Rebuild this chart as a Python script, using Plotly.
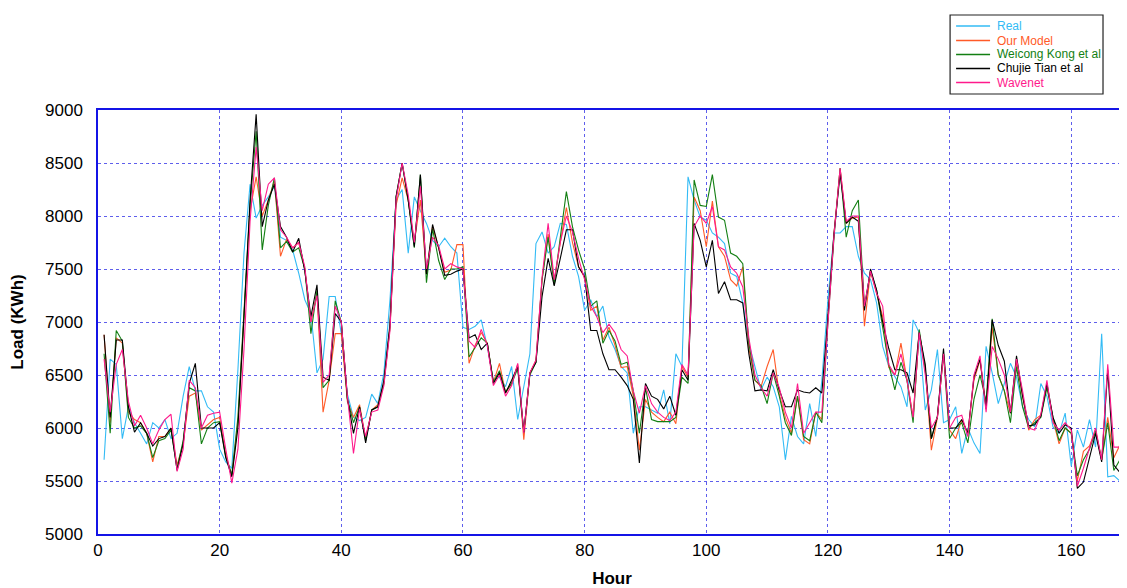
import plotly.graph_objects as go

hours = list(range(1, 169))

real = [5700, 6650, 6600, 5900, 6200, 6050, 5950, 5850, 6050, 6000,
        6080, 5900, 5950, 6300, 6580, 6350, 6350, 6200, 6150, 5800,
        5680, 5620, 6550, 7650, 8300, 7980, 8100, 8180, 8280, 7800,
        7770, 7680, 7460, 7210, 7080, 6520, 6650, 7240, 7240, 6890,
        6320, 6100, 6070, 6100, 6320, 6230, 6520, 7210, 8150, 8250,
        7650, 8180, 8050, 7930, 7770, 7710, 7790, 7710, 7650, 6950,
        6930, 6960, 7020, 6770, 6450, 6480, 6390, 6580, 6080, 6400,
        6700, 7740, 7850, 7650, 7710, 7930, 7920, 7620, 7430, 7110,
        7210, 7050, 7150, 6860, 6740, 6580, 6520, 5950, 6200, 6200,
        6170, 6140, 6360, 6040, 6700, 6580, 8370, 8150, 7990, 7960,
        7840, 7800, 7740, 7460, 7430, 7180, 6800, 6580, 6360, 6480,
        6390, 6200, 5700, 6110, 5920, 5850, 6230, 5920, 6450, 7210,
        7840, 7840, 7900, 7900, 7620, 7460, 7400, 7180, 6770, 6580,
        6480, 6390, 6200, 7020, 6900, 6170, 6360, 6740, 6050, 6080,
        6200, 5760, 6000, 5860, 5760, 6770, 6520, 6230, 6420, 6610,
        6480, 6200, 6080, 6010, 6420, 6300, 6010, 5950, 6140, 5640,
        5980, 5820, 6080, 5820, 6890, 5540, 5550, 5500]

our_model = [6880, 6050, 6850, 6800, 6150, 6080, 6050, 5950, 5680, 5920,
             5920, 6000, 5650, 5850, 6300, 6330, 5980, 6030, 6080, 6100,
             5750, 5550, 6050, 7050, 8050, 8370, 8000, 8150, 8330, 7620,
             7780, 7700, 7750, 7500, 7000, 7270, 6150, 6450, 6890, 6890,
             6250, 6100, 6220, 5900, 6170, 6220, 6420, 6950, 8100, 8360,
             8150, 7750, 8150, 7450, 7900, 7700, 7470, 7490, 7730, 7730,
             6610, 6780, 6900, 6800, 6430, 6610, 6330, 6420, 6600, 5890,
             6520, 6640, 7400, 7830, 7380, 7750, 8080, 7750, 7520, 7420,
             7110, 7150, 6830, 6950, 6780, 6570, 6580, 6300, 5790, 6270,
             6150, 6100, 6060, 6150, 6040, 6580, 6480, 8180, 8050, 7710,
             8140, 7710, 7620, 7400, 7340, 7520, 6750, 6450, 6390, 6580,
             6740, 6320, 6100, 5950, 6300, 5890, 5850, 6150, 6080, 7050,
             7840, 8450, 7930, 7980, 7990, 6960, 7480, 7270, 7050, 6570,
             6500, 6800, 6450, 6100, 6900, 6550, 5790, 6100, 6700, 5980,
             5900, 6080, 5950, 6450, 6640, 6200, 6950, 6500, 6350, 6140,
             6620, 6280, 5980, 6080, 6120, 6400, 6080, 5850, 6000, 5950,
             5500, 5780, 5830, 5980, 5700, 6100, 5720, 5840]

weicong = [6700, 5950, 6920, 6820, 6100, 6000, 6020, 5950, 5720, 5880,
           5900, 5980, 5620, 5880, 6380, 6350, 5850, 6000, 6050, 6060,
           5730, 5560, 6100, 7050, 8100, 8800, 7680, 8100, 8360, 7700,
           7760, 7660, 7700, 7500, 6890, 7300, 6380, 6450, 7200, 7000,
           6270, 6050, 6200, 5880, 6170, 6200, 6420, 6950, 8180, 8500,
           8150, 7700, 8390, 7370, 7880, 7580, 7400, 7500, 7500, 7520,
           6670, 6760, 6850, 6800, 6430, 6540, 6340, 6420, 6560, 5960,
           6500, 6620, 7400, 7800, 7350, 7800, 8230, 7900, 7680, 7500,
           7150, 7200, 6800, 6920, 6820, 6600, 6620, 6350, 5950, 6380,
           6080, 6060, 6060, 6060, 6100, 6480, 6420, 8340, 8100, 8090,
           8390, 7990, 7960, 7650, 7620, 7550, 6800, 6450, 6400, 6230,
           6520, 6300, 6050, 5930, 6300, 5920, 5880, 6150, 6050, 7000,
           7800, 8450, 7800, 8050, 8150, 7150, 7480, 7300, 6950, 6600,
           6360, 6620, 6450, 6050, 6930, 6550, 5900, 6110, 6700, 5900,
           6000, 6050, 5860, 6270, 6500, 6250, 7030, 6500, 6350, 6050,
           6580, 6200, 6000, 6050, 6100, 6380, 6100, 5880, 6000, 5950,
           5550, 5700, 5800, 5970, 5700, 6050, 5600, 5700]

chujie = [6880, 6100, 6830, 6830, 6200, 5960, 6050, 5950, 5830, 5900,
          5920, 6000, 5600, 5850, 6420, 6610, 6000, 6000, 6000, 6050,
          5720, 5540, 6000, 7050, 8150, 8960, 7900, 8150, 8300, 7900,
          7800, 7660, 7790, 7480, 7050, 7350, 6480, 6450, 7080, 7000,
          6280, 5950, 6200, 5860, 6170, 6200, 6450, 6980, 8180, 8500,
          8150, 7710, 8390, 7450, 7920, 7700, 7440, 7450, 7480, 7500,
          6850, 6880, 6740, 6800, 6420, 6520, 6330, 6450, 6580, 5960,
          6520, 6620, 7240, 7600, 7340, 7600, 7870, 7870, 7520, 7430,
          6920, 6920, 6700, 6550, 6550, 6480, 6400, 6270, 5670, 6420,
          6300, 6270, 6180, 6300, 6120, 6550, 6450, 7930, 7770, 7520,
          7770, 7270, 7380, 7210, 7210, 7180, 6700, 6350, 6360, 6350,
          6550, 6360, 6200, 6200, 6360, 6340, 6330, 6380, 6330, 7050,
          7840, 8400, 7930, 7990, 7950, 7110, 7500, 7300, 7000, 6750,
          6550, 6550, 6520, 6330, 6900, 6600, 5900, 6110, 6750, 6000,
          6000, 6080, 5950, 6480, 6650, 6180, 7020, 6780, 6630, 6140,
          6680, 6300, 6020, 6030, 6110, 6420, 6100, 5950, 6030, 6000,
          5430, 5490, 5720, 5950, 5680, 6550, 5650, 5580]

wavenet = [6650, 6150, 6600, 6740, 6250, 6020, 6120, 6000, 5850, 5980,
           6080, 6130, 5590, 5800, 6450, 6380, 6000, 6120, 6140, 6150,
           5800, 5480, 5800, 6740, 7950, 8650, 8050, 8300, 8360, 7870,
           7800, 7700, 7750, 7520, 7000, 7250, 6430, 6500, 7150, 7000,
           6300, 5760, 6180, 5920, 6150, 6170, 6400, 6920, 8150, 8500,
           8200, 7750, 8280, 7500, 7800, 7720, 7500, 7550, 7520, 7500,
           6820, 6760, 6930, 6780, 6400, 6500, 6300, 6400, 6610, 5950,
           6520, 6640, 7420, 7930, 7400, 7750, 8000, 7850, 7600, 7400,
           7150, 7050, 6900, 6980, 6900, 6740, 6680, 6350, 6140, 6400,
           6230, 6150, 6100, 6070, 6150, 6600, 6500, 7900, 8000, 7930,
           8090, 7710, 7680, 7520, 7460, 7330, 6850, 6500, 6380, 6300,
           6520, 6380, 6150, 6000, 6420, 5950, 6050, 6150, 6150, 7000,
           7820, 8450, 7950, 8000, 8000, 7150, 7480, 7270, 7150, 6600,
           6500, 6700, 6450, 6100, 6900, 6500, 6000, 6100, 6700, 6000,
           6100, 6120, 5920, 6500, 6680, 6150, 6770, 6650, 6500, 6150,
           6650, 6350, 6000, 5980, 6130, 6450, 6050, 5980, 6050, 5980,
           5450, 5620, 5800, 6000, 5700, 6600, 5820, 5820]

names = ["Real", "Our Model", "Weicong Kong et al", "Chujie Tian et al", "Wavenet"]
values = [real, our_model, weicong, chujie, wavenet]
colors = ["#33BBF5", "#FF5A28", "#137F13", "#000000", "#FF1A8C"]

x_ticks = [0, 20, 40, 60, 80, 100, 120, 140, 160]
y_ticks = [5000, 5500, 6000, 6500, 7000, 7500, 8000, 8500, 9000]

# figure geometry (page has an 8px body margin)
W, H = 1119, 580
ML, MR, MT, MB = 89.5, 1, 102, 54
PW = W - ML - MR
PH = H - MT - MB


def px_x(px):  # figure-pixel -> paper x
    return (px - ML) / PW


def px_y(py):  # figure-pixel -> paper y
    return (H - MB - py) / PH


fig = go.Figure()
for name, vals, col in zip(names, values, colors):
    fig.add_trace(go.Scatter(
        x=hours, y=vals, mode="lines", name=name,
        line=dict(color=col, width=1.1), showlegend=False,
    ))

font_family = "Liberation Sans, Arial, sans-serif"
axis_blue = "#1414E6"
grid_blue = "rgba(40,40,230,0.75)"

# custom legend (box + line samples + coloured labels)
shapes = [dict(type="rect", xref="paper", yref="paper",
               x0=px_x(942), x1=px_x(1095), y0=px_y(7), y1=px_y(86),
               line=dict(color="#222222", width=1.2), fillcolor="white", layer="above")]
annotations = []
row_y = [18, 32.5, 46.5, 60.5, 74.5]
for name, col, ry in zip(names, colors, row_y):
    shapes.append(dict(type="line", xref="paper", yref="paper",
                       x0=px_x(948), x1=px_x(982), y0=px_y(ry), y1=px_y(ry),
                       line=dict(color=col, width=1.5), layer="above"))
    annotations.append(dict(xref="paper", yref="paper", x=px_x(987), y=px_y(ry),
                            xanchor="left", yanchor="middle", showarrow=False,
                            text=name, font=dict(family=font_family, size=12, color=col)))

fig.update_layout(
    width=W, height=H,
    margin=dict(l=ML, r=MR, t=MT, b=MB, autoexpand=False),
    paper_bgcolor="white", plot_bgcolor="white",
    font=dict(family=font_family, size=17, color="black"),
    showlegend=False,
    shapes=shapes, annotations=annotations,
    xaxis=dict(
        range=[0, 169], tickvals=x_ticks, ticktext=[str(t) for t in x_ticks],
        showgrid=True, gridcolor=grid_blue, griddash="dot", gridwidth=1,
        showline=True, linecolor=axis_blue, linewidth=1.5, mirror=True,
        ticks="", zeroline=False, automargin=False,
        title=dict(text="<b>Hour</b>", font=dict(size=17), standoff=13),
    ),
    yaxis=dict(
        range=[5000, 9000], tickvals=y_ticks, ticktext=[str(t) for t in y_ticks],
        showgrid=True, gridcolor=grid_blue, griddash="dot", gridwidth=1,
        showline=True, linecolor=axis_blue, linewidth=1.5, mirror=True,
        ticks="", zeroline=False, ticklabelstandoff=10, automargin=False,
        title=dict(text="<b>Load (KWh)</b>", font=dict(size=17), standoff=18),
    ),
)

fig.write_html("out.html")
